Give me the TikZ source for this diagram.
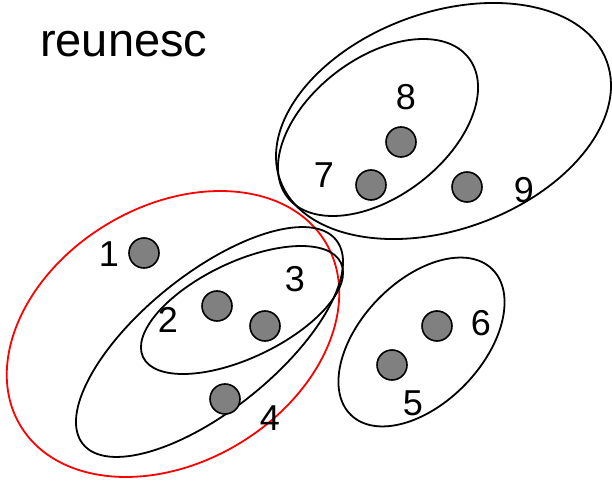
\documentclass[tikz,border=0pt]{standalone}
\usepackage{fontspec}
\setmainfont{Liberation Sans}
\begin{document}
\begin{tikzpicture}[x=1pt,y=1pt,
  dot/.style={circle,draw=black,fill=dotgray,line width=1.6pt,minimum size=30pt,inner sep=0pt},
  num/.style={inner sep=0pt,font=\fontsize{36}{40}\selectfont},
  group/.style={draw=black,line width=1.8pt},
  pick/.style={draw=red,line width=1.8pt}]
\definecolor{dotgray}{RGB}{128,128,128}
\useasboundingbox (0,0) rectangle (612,482);

% title
\node[anchor=base west,inner sep=0pt,font=\fontsize{47}{50}\selectfont] (title) at (40,425) {reunesc};

% grouping ellipses
\draw[pick, shift={(173,148)}, rotate=31] (0,0) ellipse [x radius=178, y radius=128];
\draw[group, shift={(209.5,140)}, rotate=38.9] (0,0) ellipse [x radius=162.6, y radius=67.8];
\draw[group, shift={(242,172)}, rotate=25.5] (0,0) ellipse [x radius=109.6, y radius=47.9];
\draw[group, shift={(443.5,361)}, rotate=20] (0,0) ellipse [x radius=173.8, y radius=108.5];
\draw[group, shift={(378,354.5)}, rotate=37.4] (0,0) ellipse [x radius=114.3, y radius=69.1];
\draw[group, shift={(421.5,140)}, rotate=46] (0,0) ellipse [x radius=101.5, y radius=61];

% elements
\node[dot] (d1) at (144,229) {};
\node[dot] (d2) at (217,176) {};
\node[dot] (d3) at (265,156) {};
\node[dot] (d4) at (225,83) {};
\node[dot] (d5) at (392,117) {};
\node[dot] (d6) at (437,156) {};
\node[dot] (d7) at (371,297) {};
\node[dot] (d8) at (401,340) {};
\node[dot] (d9) at (467,295) {};

% element labels
\node[num] (l1) at (109,228) {1};
\node[num] (l2) at (168,162) {2};
\node[num] (l3) at (295,203) {3};
\node[num] (l4) at (270,64) {4};
\node[num] (l5) at (413,79) {5};
\node[num] (l6) at (481,159) {6};
\node[num] (l7) at (324,307) {7};
\node[num] (l8) at (406,385) {8};
\node[num] (l9) at (524,292) {9};
\end{tikzpicture}
\end{document}
